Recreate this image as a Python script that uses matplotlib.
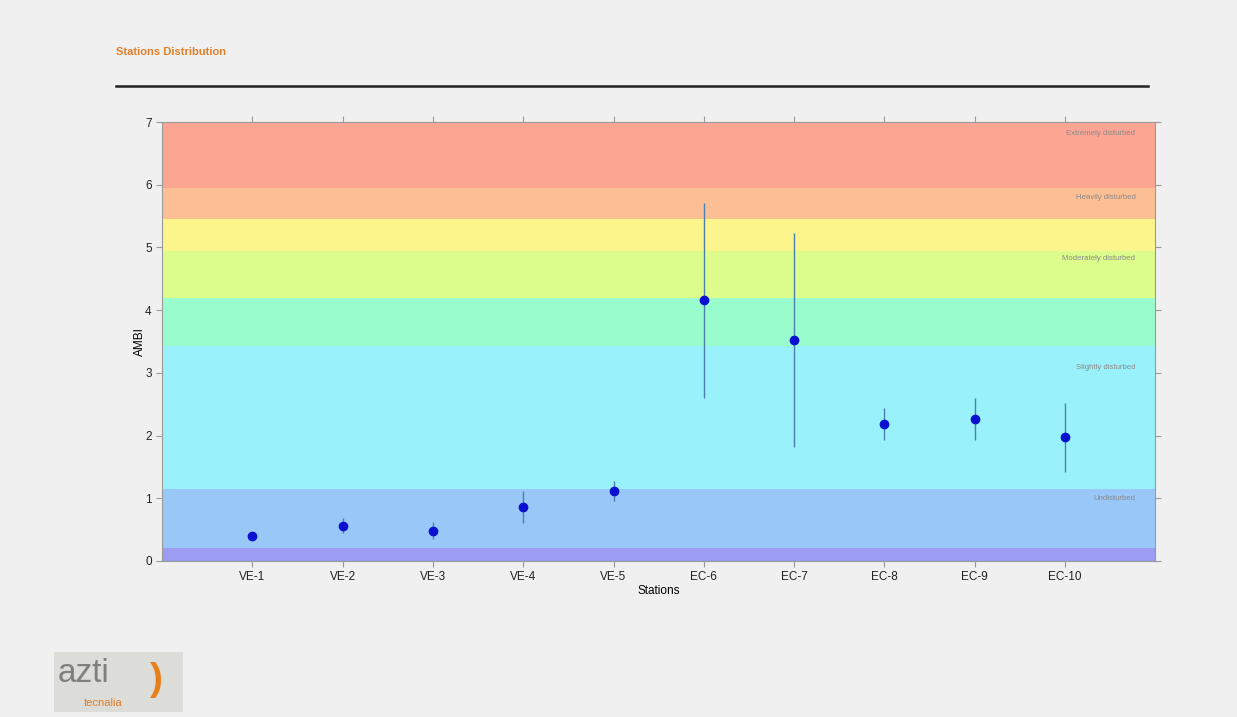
import matplotlib.pyplot as plt
from matplotlib.patches import Rectangle

stations = ["VE-1", "VE-2", "VE-3", "VE-4", "VE-5", "EC-6", "EC-7", "EC-8", "EC-9", "EC-10"]
ambi_mean = [0.40, 0.56, 0.48, 0.86, 1.12, 4.16, 3.52, 2.18, 2.26, 1.98]
ambi_low = [0.37, 0.45, 0.35, 0.61, 0.96, 2.60, 1.82, 1.93, 1.93, 1.42]
ambi_high = [0.43, 0.69, 0.62, 1.12, 1.28, 5.71, 5.23, 2.44, 2.60, 2.52]

band_edges = [0.0, 0.2, 1.15, 3.43, 4.2, 4.95, 5.45, 5.95, 7.0]
band_colors = ["#9c9cf2", "#99c8f8", "#99f2fb", "#99fccc", "#dcfc8c",
               "#fcf58c", "#fcbf94", "#fca593"]
status_labels = ["Extremely disturbed", "Heavily disturbed", "Moderately disturbed",
                 "Slightly disturbed", "Undisturbed"]
status_y = [6.81, 5.80, 4.82, 3.09, 1.0]

bg = "#f0f0f0"
plt.rcParams["font.family"] = ["Liberation Sans", "DejaVu Sans"]

fig = plt.figure(figsize=(12.37, 7.17), dpi=100)
fig.patch.set_facecolor(bg)
ax = fig.add_axes([0.131, 0.2176, 0.803, 0.6122])

x = list(range(1, len(stations) + 1))
for lo, hi, c in zip(band_edges[:-1], band_edges[1:], band_colors):
    ax.axhspan(lo, hi, color=c, lw=0, zorder=0)

for lbl, yy in zip(status_labels, status_y):
    ax.text(10.78, yy, lbl, ha="right", va="center", fontsize=5.6, color="#8a8a8a")

err_low = [m - l for m, l in zip(ambi_mean, ambi_low)]
err_high = [h - m for m, h in zip(ambi_mean, ambi_high)]
ax.errorbar(x, ambi_mean, yerr=[err_low, err_high], fmt="o", color="#0a10d0",
            ecolor="#4a7fb0", elinewidth=1, capsize=0, markersize=6, zorder=3)

ax.set_xlim(0, 11)
ax.set_ylim(0, 7)
ax.set_xticks(x)
ax.set_xticklabels(stations)
ax.set_yticks(range(0, 8))
ax.tick_params(axis="both", direction="out", length=4, color="#999999",
               labelsize=8.5, top=True, right=True, labelcolor="#222222")
for s in ax.spines.values():
    s.set_color("#999999")
    s.set_linewidth(0.8)
ax.set_xlabel("Stations", fontsize=8.5, labelpad=1)
ax.set_ylabel("AMBI", fontsize=8.5, labelpad=-1)

# header
fig.text(116 / 1237, 1 - 52 / 717, "Stations Distribution", fontsize=8,
         fontweight="bold", color="#e0802a", va="center")
fig.add_artist(plt.Line2D([116 / 1237, 1148 / 1237], [1 - 86 / 717] * 2,
                          color="#222222", lw=1.8))

# logo
fig.add_artist(Rectangle((54 / 1237, 1 - 712 / 717), 129 / 1237, 60 / 717,
                         transform=fig.transFigure, facecolor="#dcdcd8",
                         edgecolor="none"))
fig.text(58 / 1237, 1 - 674 / 717, "azti", fontsize=24, color="#7f7f7f",
         va="center", fontweight="light")
fig.text(84 / 1237, 1 - 703 / 717, "tecnalia", fontsize=8, color="#e0802a",
         va="center")
fig.text(150 / 1237, 1 - 680 / 717, ")", fontsize=28, color="#e8801a",
         va="center", fontweight="bold")

fig.savefig("out.png", dpi=100, facecolor=bg)
